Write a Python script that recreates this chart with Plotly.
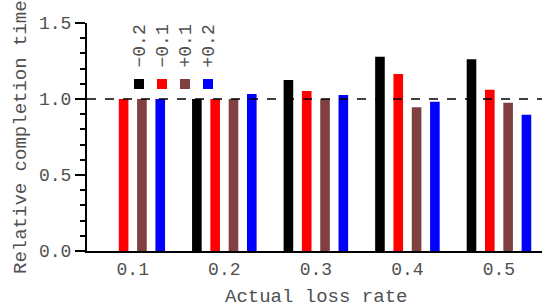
import plotly.graph_objects as go

categories = ["0.1", "0.2", "0.3", "0.4", "0.5"]
series_names = ["−0.2", "−0.1", "+0.1", "+0.2"]
series_colors = ["#000000", "#ff0000", "#804040", "#0000ff"]
v_m02 = [None, 1.0, 1.125, 1.278, 1.261]
v_m01 = [1.0, 1.0, 1.053, 1.164, 1.061]
v_p01 = [1.0, 1.0, 1.0, 0.945, 0.976]
v_p02 = [1.0, 1.033, 1.026, 0.982, 0.897]
series_values = [v_m02, v_m01, v_p01, v_p02]
y_ticks = [0.0, 0.5, 1.0, 1.5]
x_title = "Actual loss rate"
y_title = "Relative completion time"

FONT = "Liberation Mono, Courier New, monospace"
TXT = "#505050"

fig = go.Figure()
for name, vals, col in zip(series_names, series_values, series_colors):
    fig.add_trace(go.Bar(x=categories, y=vals, name=name, marker_color=col,
                         marker_line_width=0, showlegend=False))

fig.add_hline(y=1.0, line_dash="dash", line_color="black", line_width=1.5)

# custom legend
sq_x = [134, 157, 180, 203]
W = 455.0
H = 228.0
for i, (name, col) in enumerate(zip(series_names, series_colors)):
    x0 = (sq_x[i] - 87) / W
    fig.add_shape(type="rect", xref="paper", yref="paper",
                  x0=x0, x1=x0 + 10 / W, y0=(251 - 89) / H, y1=(251 - 79) / H,
                  fillcolor=col, line_width=0)
    fig.add_annotation(xref="paper", yref="paper", x=x0 + 5 / W, y=(251 - 70) / H,
                       text=name, textangle=-90, showarrow=False,
                       xanchor="center", yanchor="bottom",
                       font=dict(family=FONT, size=18, color=TXT))

# x-axis title
fig.add_annotation(xref="paper", yref="paper", x=(316 - 87) / W, y=(251 - 297) / H,
                   text=x_title, showarrow=False, xanchor="center", yanchor="middle",
                   font=dict(family=FONT, size=19, color=TXT))
# y-axis title
fig.add_annotation(xref="paper", yref="paper", x=(21 - 87) / W, y=(251 - 137) / H,
                   text=y_title, textangle=-90, showarrow=False,
                   xanchor="center", yanchor="middle",
                   font=dict(family=FONT, size=19, color=TXT))

fig.update_layout(
    width=542, height=308,
    margin=dict(l=87, r=0, t=23, b=57),
    paper_bgcolor="white", plot_bgcolor="white",
    barmode="group", bargap=0.2, bargroupgap=0.475,
    font=dict(family=FONT, size=18, color=TXT),
)
fig.update_xaxes(
    type="category", range=[-0.5, 4.47], automargin=False,
    showline=True, linecolor="black", linewidth=2,
    ticks="", showgrid=False, zeroline=False,
)
fig.update_yaxes(
    range=[0, 1.5], tickvals=y_ticks, ticktext=["%.1f" % v for v in y_ticks],
    automargin=False,
    showline=True, linecolor="black", linewidth=2,
    ticks="outside", ticklen=10, tickwidth=2, tickcolor="black",
    minor=dict(dtick=0.1, ticks="outside", ticklen=5, tickwidth=2, tickcolor="black"),
    showgrid=False, zeroline=False,
)

fig.write_html("out.html", config={"displayModeBar": False},
               post_script="document.body.style.margin='0';")
